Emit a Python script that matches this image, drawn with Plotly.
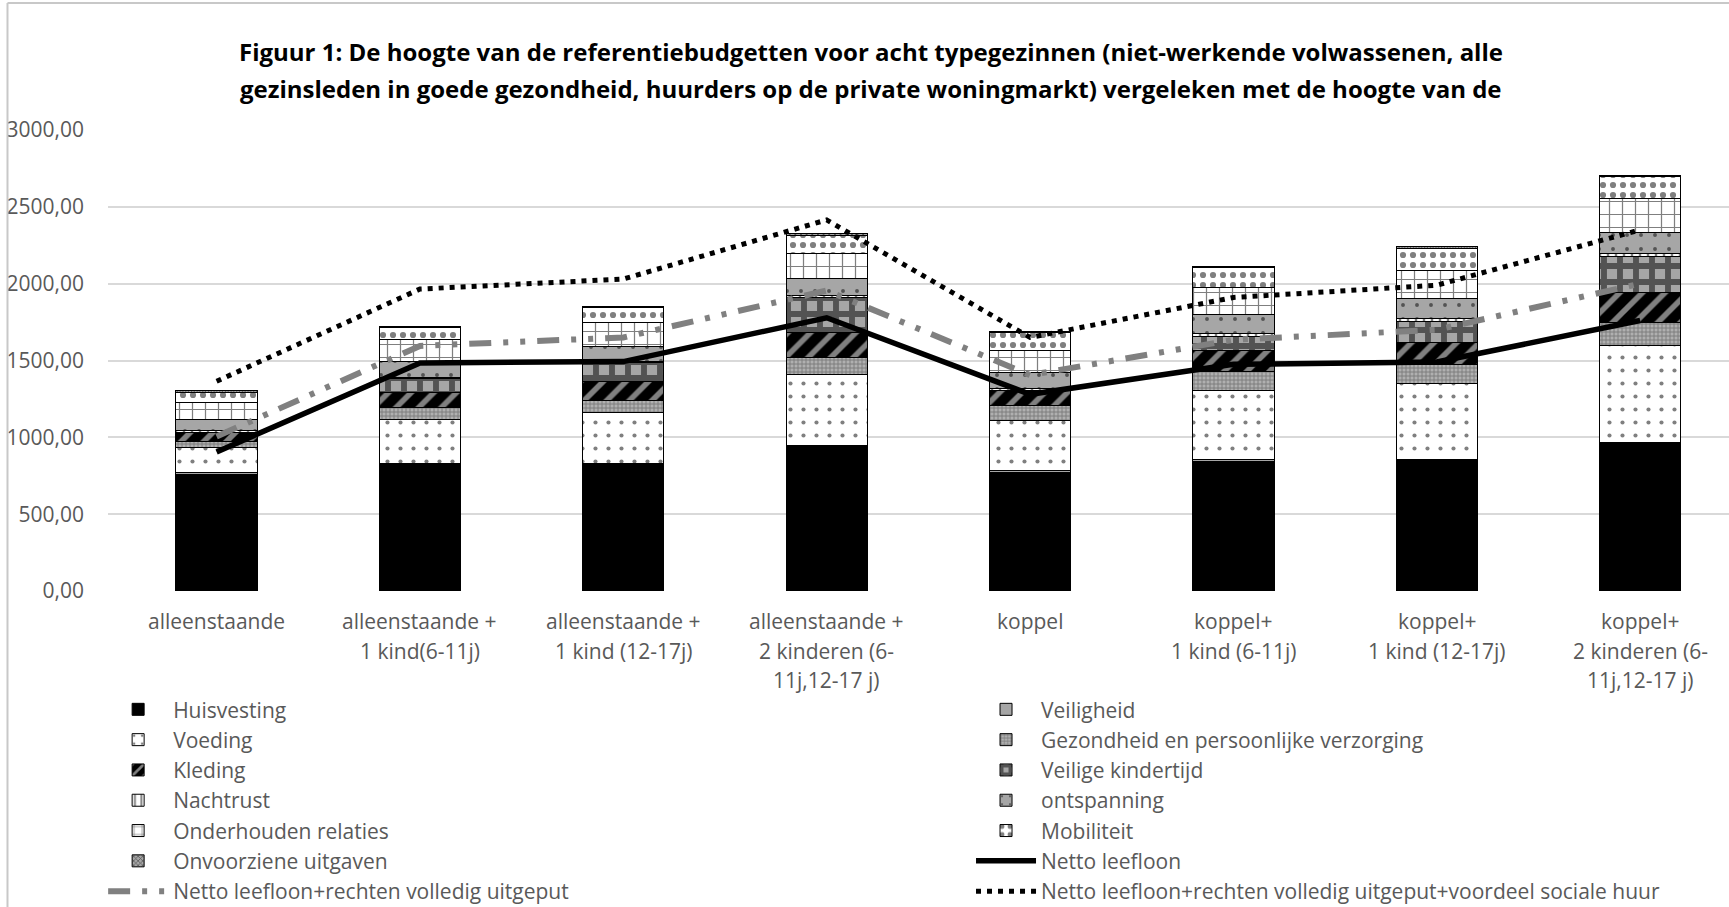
import plotly.graph_objects as go

categories = [
    "alleenstaande",
    "alleenstaande +<br>1 kind(6-11j)",
    "alleenstaande +<br>1 kind (12-17j)",
    "alleenstaande +<br>2 kinderen (6-<br>11j,12-17 j)",
    "koppel",
    "koppel+<br>1 kind (6-11j)",
    "koppel+<br>1 kind (12-17j)",
    "koppel+<br>2 kinderen (6-<br>11j,12-17 j)",
]

huisvesting = [758, 823, 821, 940, 773, 844, 849, 957]
veiligheid = [12, 10, 10, 10, 10, 10, 10, 10]
voeding = [161, 286, 331, 461, 325, 449, 491, 632]
gezondheid = [43, 75, 80, 108, 97, 125, 126, 146]
kleding = [58, 98, 121, 166, 98, 134, 144, 195]
veilige_kindertijd = [0, 90, 123, 222, 0, 97, 136, 238]
nachtrust = [10, 10, 10, 15, 15, 15, 15, 20]
ontspanning = [76, 100, 93, 109, 101, 123, 130, 136]
onderhouden_relaties = [109, 146, 161, 168, 147, 180, 184, 222]
mobiliteit = [66, 76, 93, 116, 115, 126, 147, 141]
onvoorziene = [10, 10, 10, 10, 10, 10, 10, 10]

netto_leefloon = [905, 1484, 1493, 1778, 1280, 1475, 1490, 1760]
netto_rechten = [1005, 1595, 1650, 1955, 1405, 1635, 1700, 2000]
netto_rechten_huur = [1365, 1965, 2030, 2415, 1650, 1910, 1990, 2350]

y_ticks = [0, 500, 1000, 1500, 2000, 2500, 3000]

title_lines = [
    "Figuur 1: De hoogte van de referentiebudgetten voor acht typegezinnen (niet-werkende volwassenen, alle",
    "gezinsleden in goede gezondheid, huurders op de private woningmarkt) vergeleken met de hoogte van de",
]

FONT = "Open Sans"
TXT = "#595959"

# (name, values, marker, legend column)
bar_series = [
    ("Huisvesting", huisvesting, dict(color="black"), "legend"),
    ("Veiligheid", veiligheid, dict(color="#A6A6A6"), "legend2"),
    ("Voeding", voeding, dict(color="white", pattern=dict(shape=".", fgcolor="black", bgcolor="white", size=13, solidity=0.08)), "legend"),
    ("Gezondheid en persoonlijke verzorging", gezondheid, dict(color="#A6A6A6", pattern=dict(shape="+", fgcolor="#404040", bgcolor="#B0B0B0", size=4, solidity=0.4)), "legend2"),
    ("Kleding", kleding, dict(color="black", pattern=dict(shape="/", fgcolor="white", bgcolor="black", size=16, solidity=0.35)), "legend"),
    ("Veilige kindertijd", veilige_kindertijd, dict(color="#808080", pattern=dict(shape="+", fgcolor="black", bgcolor="#A6A6A6", size=16, solidity=0.6)), "legend2"),
    ("Nachtrust", nachtrust, dict(color="white", pattern=dict(shape="|", fgcolor="black", bgcolor="white", size=8, solidity=0.3)), "legend"),
    ("ontspanning", ontspanning, dict(color="#A6A6A6", pattern=dict(shape=".", fgcolor="black", bgcolor="#A6A6A6", size=14, solidity=0.06)), "legend2"),
    ("Onderhouden relaties", onderhouden_relaties, dict(color="white", pattern=dict(shape="+", fgcolor="black", bgcolor="white", size=13, solidity=0.18)), "legend"),
    ("Mobiliteit", mobiliteit, dict(color="white", pattern=dict(shape=".", fgcolor="black", bgcolor="white", size=10, solidity=0.3)), "legend2"),
    ("Onvoorziene uitgaven", onvoorziene, dict(color="#808080", pattern=dict(shape="x", fgcolor="black", bgcolor="#A6A6A6", size=4, solidity=0.4)), "legend"),
]

fig = go.Figure()
for name, vals, mk, lg in bar_series:
    fig.add_trace(go.Bar(
        name=name, x=categories, y=vals, width=0.4, legend=lg,
        marker=dict(**mk, line=dict(color="black", width=1)),
    ))

fig.add_trace(go.Scatter(
    name="Netto leefloon", x=categories, y=netto_leefloon, mode="lines", legend="legend2",
    line=dict(color="black", width=5.5),
))
fig.add_trace(go.Scatter(
    name="Netto leefloon+rechten volledig uitgeput", x=categories, y=netto_rechten, mode="lines",
    legend="legend",
    line=dict(color="#808080", width=6, dash="22px,12px,5px,12px,5px,12px"),
))
fig.add_trace(go.Scatter(
    name="Netto leefloon+rechten volledig uitgeput+voordeel sociale huur", x=categories, y=netto_rechten_huur,
    mode="lines", legend="legend2", line=dict(color="black", width=5, dash="5px,6px"),
))

# category labels drawn line by line (wider line spacing than plotly's default)
line_y = [-0.065, -0.1293, -0.1931]
for cat in categories:
    for i, part in enumerate(cat.split("<br>")):
        fig.add_annotation(x=cat, y=line_y[i], xref="x", yref="paper", text=part,
                           showarrow=False, font=dict(family=FONT, size=21, color=TXT),
                           xanchor="center", yanchor="middle")

title_y = [(591 - 52) / 461, (591 - 88) / 461]
for i, t in enumerate(title_lines):
    fig.add_annotation(x=0.4705, y=title_y[i], xref="paper", yref="paper", text="<b>" + t + "</b>",
                       showarrow=False, font=dict(family=FONT, size=24, color="black"),
                       xanchor="center", yanchor="middle")

# chart-area border (only the left and top edges are inside the picture)
bx, by = -0.062, (591 - 3) / 461
fig.add_shape(type="line", xref="paper", yref="paper", x0=bx, x1=bx, y0=-0.7, y1=by,
              line=dict(color="#C8C8C8", width=2), layer="above")
fig.add_shape(type="line", xref="paper", yref="paper", x0=bx, x1=1.1, y0=by, y1=by,
              line=dict(color="#C8C8C8", width=2), layer="above")

leg_common = dict(orientation="v", xanchor="left", yanchor="top", traceorder="normal",
                  font=dict(family=FONT, size=21, color=TXT), itemwidth=60,
                  bgcolor="rgba(0,0,0,0)", tracegroupgap=0)

fig.update_layout(
    width=1729, height=907,
    margin=dict(l=108, r=0, t=130, b=316, autoexpand=False),
    paper_bgcolor="white", plot_bgcolor="white",
    barmode="stack",
    separators=",.",
    showlegend=True,
    legend=dict(x=-0.003, y=-0.213, **leg_common),
    legend2=dict(x=0.5324, y=-0.213, **leg_common),
    xaxis=dict(range=[-0.534, 7.437], showticklabels=False, showgrid=False, zeroline=False,
               showline=False, ticks=""),
    yaxis=dict(range=[0, 3000], tickvals=y_ticks, tickformat=".2f",
               showgrid=True, gridcolor="#D9D9D9", gridwidth=1.5, zeroline=False, showline=False,
               tickfont=dict(family=FONT, size=21, color=TXT), ticklabelstandoff=23),
    font=dict(family=FONT),
)

fig.write_html("out.html", config={"displayModeBar": False},
               post_script="document.body.style.margin='0';document.body.style.overflow='hidden';")
